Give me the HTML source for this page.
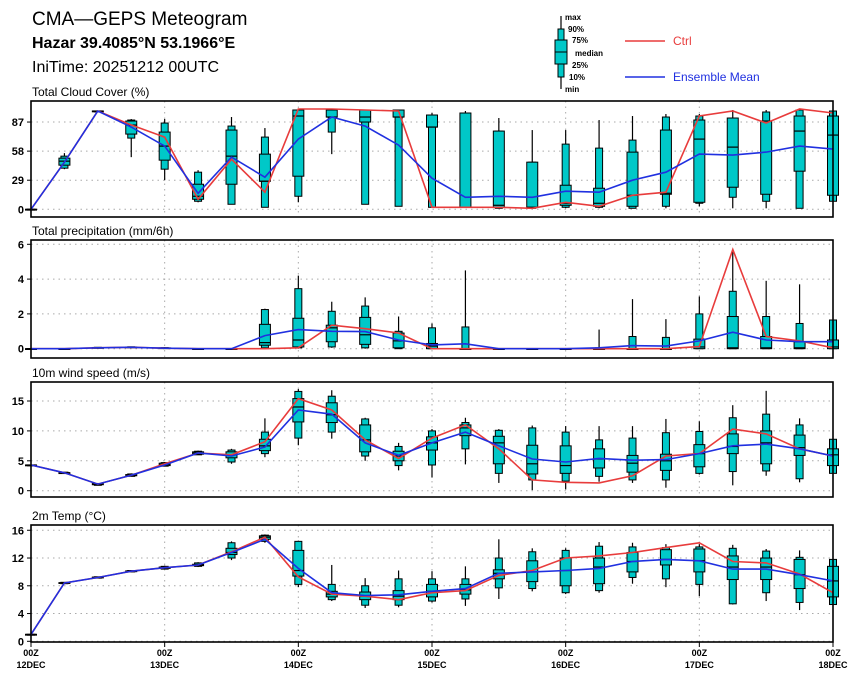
<!DOCTYPE html>
<html><head><meta charset="utf-8"><style>
body{margin:0;background:#fff;width:860px;height:680px;overflow:hidden}
svg{display:block;font-family:"Liberation Sans",sans-serif}
</style></head><body>
<svg id="chart" width="860" height="680" viewBox="0 0 860 680">
<text x="32" y="25" font-size="19">CMA—GEPS Meteogram</text>
<text x="32" y="48" font-size="16" font-weight="bold">Hazar 39.4085°N 53.1966°E</text>
<text x="32" y="72" font-size="16">IniTime: 20251212 00UTC</text>
<g>
 <line x1="561" y1="16" x2="561" y2="89" stroke="#000" stroke-width="1.2"/>
 <rect x="558" y="29" width="6" height="48" fill="#00c8c8" stroke="#000"/>
 <rect x="555" y="40" width="12" height="24" fill="#00c8c8" stroke="#000"/>
 <line x1="555" y1="52" x2="567" y2="52" stroke="#000"/>
 <g font-size="8" font-weight="bold">
 <text x="565" y="20">max</text><text x="568" y="32">90%</text><text x="572" y="43">75%</text>
 <text x="575" y="56">median</text><text x="572" y="68">25%</text><text x="569" y="80">10%</text><text x="565" y="92">min</text></g>
 <line x1="625" y1="41" x2="665" y2="41" stroke="#e83c3c" stroke-width="1.5"/>
 <text x="673" y="45" font-size="12" fill="#e83c3c">Ctrl</text>
 <line x1="625" y1="77" x2="665" y2="77" stroke="#2030e0" stroke-width="1.5"/>
 <text x="673" y="81" font-size="12" fill="#2030e0">Ensemble Mean</text>
</g>
</svg>
<script>
const xLabels=["12DEC","13DEC","14DEC","15DEC","16DEC","17DEC","18DEC"];
const cloudCtrl=[0,47,98,84,72,10,50,17,100,100,99,98,2,2,2,1,7,3,14,17,93,98,86,100,96];
const cloudMean=[0,47,98,82,63,16,52,32,70,92,83,64,31,12,13,12,18,17,29,37,55,54,57,63,60];
const cloudMin=[0,40,98,52,29,7,5,2,7,55,5,3,2,2,1,1,1,1,1,1,3,1,1,1,8];
const cloudP10=[0,41,98,71,40,8,5,2,13,77,5,3,2,2,1,1,2,2,1,3,6,12,8,1,8];
const cloudP25=[0,44,98,75,49,10,25,28,33,92,87,92,82,2,2,2,4,3,3,15,7,22,15,38,14];
const cloudMed=[0,48,98,84,63,13,53,28,93,92,92,92,82,2,4,2,6,6,14,16,70,62,88,78,74];
const cloudP75=[0,51,98,88,77,25,79,55,99,99,99,99,94,96,78,47,24,21,57,79,89,91,88,93,93];
const cloudP90=[0,53,98,89,86,37,83,72,99,99,99,99,94,96,78,47,65,61,69,92,93,91,97,99,98];
const cloudMax=[0,56,98,90,90,39,92,81,99,99,99,99,96,98,91,79,79,89,93,95,95,99,99,100,98];
const precCtrl=[0,0,.05,.08,.03,0,0,0,.05,1.35,1.15,.9,0,0,0,0,0,0,0,0,.12,5.7,.7,.45,.05];
const precMean=[0,0,.05,.08,.03,0,0,.75,1.1,1.0,.98,.5,.22,.28,0,0,0,.05,.18,.15,.45,.95,.5,.4,.4];
const precMin=[0,0,.05,.08,.03,0,0,0,0,.05,0,0,0,0,0,0,0,0,0,0,0,0,0,0,0];
const precP10=[0,0,.05,.08,.03,0,0,.05,.05,.1,.05,0,0,0,0,0,0,0,0,0,0,0,0,0,0];
const precP25=[0,0,.05,.08,.03,0,0,.2,.1,.4,.25,.05,0,0,0,0,0,0,0,0,0,0,0,0,0];
const precMed=[0,0,.05,.08,.03,0,0,.35,.5,1.2,.8,.45,.15,0,0,0,0,0,0,0,.1,.05,.05,.05,.1];
const precP75=[0,0,.07,.1,.05,0,0,1.4,1.75,1.35,1.8,.9,.3,0,0,0,0,0,0,0,.55,1.85,.7,.4,.5];
const precP90=[0,0,.08,.11,.06,0,0,2.25,3.45,2.15,2.45,1.0,1.2,1.25,0,0,0,.05,.7,.65,2.0,3.3,1.85,1.45,1.65];
const precMax=[0,0,.09,.12,.08,0,0,2.3,4.2,2.7,2.95,1.85,1.45,4.5,0,0,0,1.1,2.85,1.7,3.0,5.7,3.9,3.7,1.65];
const windCtrl=[4.3,3.0,1.1,2.6,4.5,6.3,6.0,8.2,15.4,13.5,8.5,5.4,8.8,11.0,7.0,1.8,1.4,1.3,2.5,5.8,6.2,10.3,9.5,7.0,5.8];
const windMean=[4.3,3.0,1.1,2.6,4.3,6.3,5.8,7.3,13.5,12.8,8.0,5.9,8.0,9.8,7.5,5.3,4.8,5.4,5.1,5.2,6.2,7.5,7.8,7.0,5.8];
const windMin=[4.3,2.9,0.9,2.4,4.1,6.0,4.5,5.6,7.6,8.7,5.0,3.4,2.2,4.4,1.3,0.1,0.2,1.5,1.3,0.5,2.7,0.9,2.5,1.4,2.9];
const windP10=[4.3,2.9,0.9,2.4,4.1,6.0,4.8,6.2,8.8,9.8,5.8,4.2,4.3,7.0,2.9,1.8,1.6,2.4,1.8,1.8,2.9,3.2,3.3,2.0,2.9];
const windP25=[4.3,2.9,1.0,2.5,4.2,6.1,5.5,6.7,11.5,11.4,6.5,5.0,6.8,9.2,4.5,2.8,2.9,3.8,3.1,3.4,4.0,6.2,4.5,5.9,4.2];
const windMed=[4.3,3.0,1.1,2.6,4.4,6.3,6.0,7.5,14.0,12.7,8.5,5.8,8.0,10.5,8.0,4.5,4.2,5.3,4.6,5.0,6.2,7.4,8.0,7.2,6.0];
const windP75=[4.3,3.0,1.2,2.7,4.6,6.5,6.5,8.6,15.4,14.7,11.0,6.6,9.0,11.0,9.1,7.6,7.5,7.0,5.9,6.1,7.7,9.5,10.0,9.3,7.0];
const windP90=[4.3,3.1,1.2,2.8,4.7,6.6,6.8,9.8,16.6,15.8,12.0,7.4,10.0,11.4,10.1,10.5,9.8,8.5,8.8,9.7,9.9,12.2,12.8,11.0,8.6];
const windMax=[4.3,3.1,1.3,2.9,4.8,6.7,7.0,12.1,17.0,16.8,12.2,8.0,10.3,12.2,10.3,10.9,10.8,10.8,10.8,12.0,11.6,14.3,16.7,12.1,8.6];
const tempCtrl=[1.0,8.4,9.2,10.1,10.6,11.0,12.9,15.0,9.3,6.8,6.5,6.0,7.0,7.3,9.5,10.2,12.0,12.3,12.8,13.5,14.2,11.5,11.3,9.7,7.0];
const tempMean=[1.0,8.4,9.2,10.1,10.6,11.0,12.8,14.7,10.5,7.0,6.6,6.7,7.2,7.6,9.8,10.0,10.2,10.5,11.5,11.8,11.6,10.4,10.4,9.6,8.7];
const tempMin=[1.0,8.3,9.1,10.0,10.4,10.7,11.7,14.2,7.8,5.8,4.8,4.9,5.6,5.1,6.1,7.2,6.8,7.0,8.3,7.8,6.5,5.3,5.8,4.5,5.2];
const tempP10=[1.0,8.3,9.1,10.0,10.4,10.8,12.0,14.4,8.2,6.0,5.2,5.2,5.8,6.1,7.7,7.6,7.0,7.3,9.2,9.0,8.2,5.4,7.0,5.6,5.3];
const tempP25=[1.0,8.35,9.15,10.05,10.5,10.9,12.5,14.7,9.4,6.4,6.0,6.0,6.4,6.8,9.0,8.6,8.0,8.3,10.0,11.0,10.0,8.9,8.9,7.6,6.4];
const tempMed=[1.0,8.4,9.2,10.1,10.6,11.0,12.8,15.0,10.2,6.8,6.5,6.5,7.2,7.4,9.8,10.0,10.2,10.7,11.5,11.8,11.6,10.7,10.7,9.6,8.7];
const tempP75=[1.0,8.45,9.25,10.15,10.7,11.1,13.4,15.2,13.1,7.2,7.1,7.3,8.2,8.2,10.3,11.6,12.0,12.0,12.8,13.2,13.3,12.3,12.0,11.8,10.8];
const tempP90=[1.0,8.5,9.3,10.2,10.8,11.3,14.2,15.3,14.4,8.2,8.0,9.0,9.0,9.0,12.0,12.9,13.1,13.7,13.6,13.5,13.6,13.4,13.0,12.1,11.8];
const tempMax=[1.0,8.5,9.3,10.2,10.9,11.4,14.4,15.4,14.5,11.0,9.1,10.2,10.1,10.8,14.7,13.4,13.4,14.3,14.2,14.0,14.0,13.9,13.3,13.1,11.8];

const NS="http://www.w3.org/2000/svg";
const svg=document.getElementById('chart');
const X0=31,X1=833,NT=24;
function xs(i){return X0+(X1-X0)*i/NT;}
function mk(tag,attrs,parent){const e=document.createElementNS(NS,tag);for(const k in attrs)e.setAttribute(k,attrs[k]);(parent||svg).appendChild(e);return e;}

const panels=[
 {key:'cloud',title:'Total Cloud Cover (%)',top:101,bot:217,y0:209.3,k:1.003,ticks:[0,29,58,87],
  ctrl:cloudCtrl,mean:cloudMean,min:cloudMin,p10:cloudP10,p25:cloudP25,med:cloudMed,p75:cloudP75,p90:cloudP90,max:cloudMax},
 {key:'precip',title:'Total precipitation (mm/6h)',top:240,bot:358,y0:348.7,k:17.4,ticks:[0,2,4,6],
  ctrl:precCtrl,mean:precMean,min:precMin,p10:precP10,p25:precP25,med:precMed,p75:precP75,p90:precP90,max:precMax},
 {key:'wind',title:'10m wind speed (m/s)',top:382,bot:497,y0:490.7,k:5.98,ticks:[0,5,10,15],
  ctrl:windCtrl,mean:windMean,min:windMin,p10:windP10,p25:windP25,med:windMed,p75:windP75,p90:windP90,max:windMax},
 {key:'temp',title:'2m Temp (°C)',top:525,bot:642,y0:641.3,k:6.94,ticks:[0,4,8,12,16],
  ctrl:tempCtrl,mean:tempMean,min:tempMin,p10:tempP10,p25:tempP25,med:tempMed,p75:tempP75,p90:tempP90,max:tempMax}
];

panels.forEach(p=>{
 const g=mk('g',{});
 
 
 const ys=v=>p.y0-v*p.k;
 const t=mk('text',{x:32,y:p.top-5,'font-size':12},g);
 t.textContent=p.title;
 
 
 p.ticks.forEach(v=>{
  const yy=ys(v);
  if(v!==0||true){const gl=mk('line',{x1:X0,x2:X1,y1:yy,y2:yy,stroke:'#aaa','stroke-dasharray':'1.5,4','stroke-width':1},g);
  
  }
  mk('line',{x1:X0-4,x2:X0,y1:yy,y2:yy,stroke:'#000'},g);
  const tl=mk('text',{x:X0-7,y:yy+4,'font-size':11,'font-weight':'bold','text-anchor':'end'},g);
  tl.textContent=v;
  
  
 });
 for(let d=1;d<6;d++){const xx=xs(d*4);
  const vl=mk('line',{x1:xx,x2:xx,y1:p.top,y2:p.bot,stroke:'#aaa','stroke-dasharray':'1.5,4'},g);
  
  }
 for(let i=0;i<=NT;i++){
  const xx=xs(i);
  const b=mk('g',{},g);
  
  
  mk('line',{x1:xx,x2:xx,y1:ys(p.max[i]),y2:ys(p.min[i]),stroke:'#000','stroke-width':1.2},b);
  const a=ys(p.p90[i]),c=ys(p.p10[i]);
  mk('rect',{x:xx-3.5,y:a,width:7,height:Math.max(c-a,0.8),fill:'#00c8c8',stroke:'#000','stroke-width':1},b);
  const a2=ys(p.p75[i]),c2=ys(p.p25[i]);
  mk('rect',{x:xx-5.5,y:a2,width:11,height:Math.max(c2-a2,0.8),fill:'#00c8c8',stroke:'#000','stroke-width':1},b);
  const m=ys(p.med[i]);
  mk('line',{x1:xx-5.5,x2:xx+5.5,y1:m,y2:m,stroke:'#000','stroke-width':1.2},b);
 }
 const pts=a=>a.map((v,i)=>xs(i).toFixed(1)+','+ys(v).toFixed(1)).join(' ');
 const cl=mk('polyline',{points:pts(p.ctrl),fill:'none',stroke:'#e83c3c','stroke-width':1.6},g);
 
 
 const ml=mk('polyline',{points:pts(p.mean),fill:'none',stroke:'#2030e0','stroke-width':1.6},g);
 
 
 const fr=mk('rect',{x:X0,y:p.top,width:X1-X0,height:p.bot-p.top,fill:'none',stroke:'#000','stroke-width':1.6},g);
 
 
});
xLabels.forEach((lab,d)=>{
 const xx=xs(d*4);
 mk('line',{x1:xx,x2:xx,y1:642,y2:647,stroke:'#000'});
 const t1=mk('text',{x:xx,y:656,'font-size':9,'font-weight':'bold','text-anchor':'middle'});
 t1.textContent='00Z';
 
 
 const t2=mk('text',{x:xx,y:668,'font-size':9,'font-weight':'bold','text-anchor':'middle'});
 t2.textContent=lab;
 
 
});
</script>
</body></html>
